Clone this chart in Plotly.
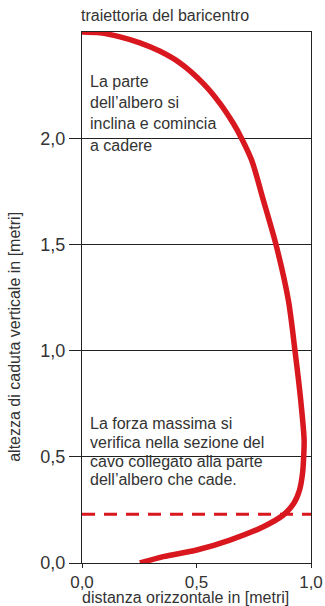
import plotly.graph_objects as go

# trajectory of the centre of gravity
traj_x = [0.000, 0.079, 0.166, 0.253, 0.341, 0.428, 0.530, 0.603, 0.661, 0.697,
          0.741, 0.792, 0.847, 0.901, 0.930, 0.955, 0.970, 0.968, 0.963, 0.950,
          0.925, 0.879, 0.792, 0.646, 0.501, 0.355, 0.253]
traj_y = [2.500, 2.496, 2.477, 2.449, 2.409, 2.354, 2.257, 2.163, 2.069, 1.999,
          1.896, 1.708, 1.500, 1.238, 1.000, 0.767, 0.579, 0.500, 0.422, 0.344,
          0.281, 0.226, 0.171, 0.108, 0.061, 0.030, 0.000]

dash_x = [0.0, 1.0]
dash_y = [0.23, 0.23]

x_ticks = [0.0, 0.5, 1.0]
y_ticks = [0.0, 0.5, 1.0, 1.5, 2.0]

title_text = "traiettoria del baricentro"
x_title = "distanza orizzontale in [metri]"
y_title = "altezza di caduta verticale in [metri]"
note_top = ["La parte", "dell\u2019albero si", "inclina e comincia", "a cadere"]
note_bottom = ["La forza massima si", "verifica nella sezione del",
               "cavo collegato alla parte", "dell\u2019albero che cade."]

RED = "#d8171e"
TXT = "#333333"
FONT = "Liberation Sans, Arial, sans-serif"

fig = go.Figure()
fig.add_trace(go.Scatter(x=dash_x, y=dash_y, mode="lines",
                         line=dict(color=RED, width=3, dash="13px,9px"),
                         hoverinfo="skip", showlegend=False))
fig.add_trace(go.Scatter(x=traj_x, y=traj_y, mode="lines",
                         line=dict(color=RED, width=5.5, shape="spline", smoothing=0.8),
                         showlegend=False, cliponaxis=False))

annotations = []
annotations.append(dict(text=title_text, xref="paper", yref="paper", x=0, y=1.032,
                        xanchor="left", yanchor="middle", xshift=-3, showarrow=False,
                        font=dict(size=16, color=TXT, family=FONT)))
annotations.append(dict(text=x_title, xref="paper", yref="paper", x=0.452, y=0,
                        yshift=-34, xanchor="center", yanchor="middle", showarrow=False,
                        borderpad=0,
                        font=dict(size=16, color=TXT, family=FONT)))
annotations.append(dict(text=y_title, xref="paper", yref="paper", x=0, y=0.426,
                        xshift=-67, xanchor="center", yanchor="middle", textangle=-90,
                        showarrow=False, font=dict(size=16, color=TXT, family=FONT)))
top_y = [2.265, 2.167, 2.068, 1.967]
for t, yy in zip(note_top, top_y):
    annotations.append(dict(text=t, x=0.025, y=yy, xref="x", yref="y", xanchor="left",
                            yanchor="middle", showarrow=False,
                            font=dict(size=16, color=TXT, family=FONT)))
bot_y = [0.657, 0.568, 0.480, 0.395]
for t, yy in zip(note_bottom, bot_y):
    annotations.append(dict(text=t, x=0.025, y=yy, xref="x", yref="y", xanchor="left",
                            yanchor="middle", showarrow=False,
                            font=dict(size=16, color=TXT, family=FONT)))

fig.update_layout(
    width=325, height=606,
    margin=dict(l=82, r=14, t=32, b=43),
    paper_bgcolor="white", plot_bgcolor="white",
    separators=",.",
    annotations=annotations,
    font=dict(family=FONT, color=TXT),
)
fig.update_xaxes(range=[0, 1.0], tickvals=x_ticks, tickformat=".1f", automargin=False,
                 ticks="outside", ticklen=4, tickcolor="#222", tickwidth=1,
                 showgrid=False, zeroline=False,
                 showline=True, linecolor="#222", linewidth=1, mirror=True,
                 tickfont=dict(size=17, color=TXT, family=FONT))
fig.update_yaxes(range=[0, 2.5], tickvals=y_ticks, tickformat=".1f", automargin=False,
                 ticks="outside", ticklen=12, tickcolor="#222", tickwidth=1,
                 showgrid=True, gridcolor="#222", gridwidth=1, zeroline=False,
                 showline=True, linecolor="#222", linewidth=1, mirror=True,
                 tickfont=dict(size=18, color=TXT, family=FONT))

# remove the browser's default 8px body margin so the figure sits at the page corner
fig.write_html("out.html", config={"displayModeBar": False},
               post_script="document.body.style.margin='0';")
